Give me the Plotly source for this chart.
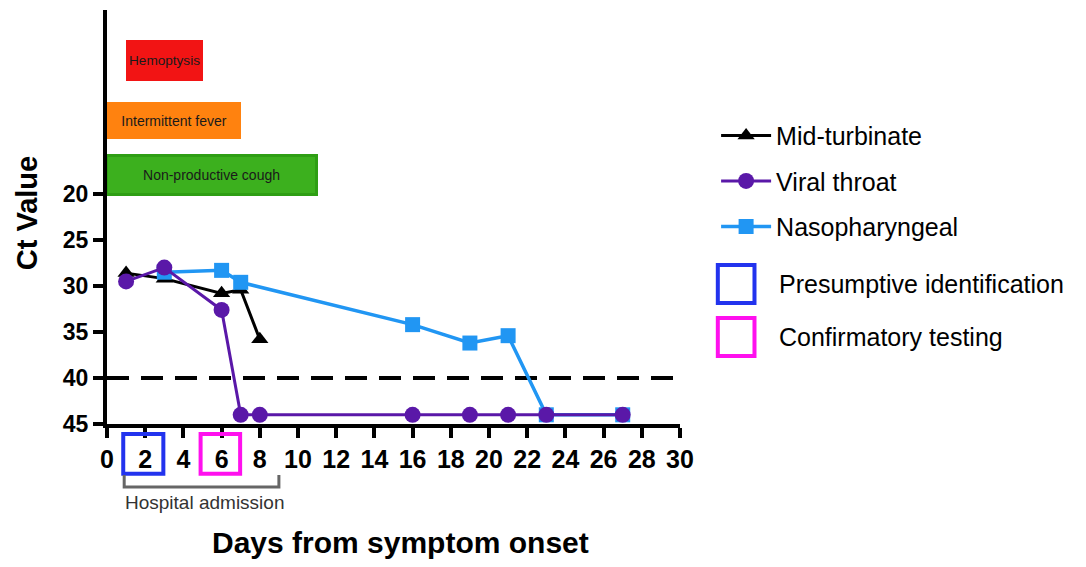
import plotly.graph_objects as go

# ---- data ----
mt_days = [1, 3, 6, 7, 8]
mt_ct = [28.6, 29.2, 30.8, 30.4, 35.8]

vt_days = [1, 3, 6, 7, 8, 16, 19, 21, 23, 27]
vt_ct = [29.5, 28.0, 32.6, 44.0, 44.0, 44.0, 44.0, 44.0, 44.0, 44.0]

np_days = [3, 6, 7, 16, 19, 21, 23, 27]
np_ct = [28.5, 28.3, 29.6, 34.2, 36.2, 35.4, 44.0, 44.0]

symptoms = ["Hemoptysis", "Intermittent fever", "Non-productive cough"]
sym_start = [1, 0, 0]
sym_end = [5, 7, 11]
sym_row = [5.5, 12.0, 18.0]
sym_colors = ["#f21414", "#ff820f", "#3cb01e"]

detect_limit = 40
x_ticks = list(range(0, 31, 2))
y_ticks = [20, 25, 30, 35, 40, 45]

FONT = "Liberation Sans, Arial, sans-serif"

fig = go.Figure()

# symptom bars
fig.add_trace(go.Bar(
    orientation="h",
    y=sym_row,
    base=sym_start,
    x=[e - s for s, e in zip(sym_start, sym_end)],
    width=[4.5, 4.1, 4.3],
    marker=dict(color=sym_colors, line=dict(color=["#f21414", "#ff820f", "#2e9e14"], width=[0, 0, 3])),
    text=symptoms,
    textposition="inside",
    insidetextanchor="middle",
    textfont=dict(family=FONT, size=14, color="#1a1a1a"),
    showlegend=False,
    hoverinfo="skip",
))

fig.add_trace(go.Scatter(
    x=mt_days, y=mt_ct, mode="lines+markers", name="Mid-turbinate",
    line=dict(color="black", width=3),
    marker=dict(symbol="triangle-up", size=15, color="black"),
    legendrank=1, legendgroup="mt",
))
fig.add_trace(go.Scatter(
    x=np_days, y=np_ct, mode="lines+markers", name="Nasopharyngeal",
    line=dict(color="#2196f3", width=3.5),
    marker=dict(symbol="square", size=15, color="#2196f3"),
    legendrank=3, legendgroup="np",
))
fig.add_trace(go.Scatter(
    x=vt_days, y=vt_ct, mode="lines+markers", name="Viral throat",
    line=dict(color="#5a18a8", width=3),
    marker=dict(symbol="circle", size=16, color="#5a18a8"),
    legendrank=2, legendgroup="vt",
))

# detection limit
fig.add_shape(type="line", xref="x", yref="y", x0=0, x1=30, y0=detect_limit, y1=detect_limit,
              line=dict(color="black", width=4, dash="22px,12px"), layer="below")

# boxes around tick labels 2 and 6
fig.add_shape(type="rect", xref="x", yref="paper", x0=0.85, x1=2.95, y0=-0.12, y1=-0.024,
              line=dict(color="#2233ee", width=4))
fig.add_shape(type="rect", xref="x", yref="paper", x0=4.9, x1=6.97, y0=-0.12, y1=-0.024,
              line=dict(color="#ff10ee", width=4))

# hospital admission bracket
fig.add_shape(type="path", xref="x", yref="paper",
              path="M 0.9,-0.123 L 0.9,-0.152 L 9.0,-0.152 L 9.0,-0.123",
              line=dict(color="#666666", width=3))
fig.add_annotation(x=5.13, y=-0.19, xref="x", yref="paper", text="Hospital admission",
                   showarrow=False, xanchor="center", yanchor="middle",
                   font=dict(family=FONT, size=19, color="#333333"))

# axis titles
fig.add_annotation(x=0.513, y=-0.287, xref="paper", yref="paper", text="<b>Days from symptom onset</b>",
                   showarrow=False, xanchor="center", yanchor="middle",
                   font=dict(family=FONT, size=30, color="black"))
fig.add_annotation(x=-0.139, y=0.51, xref="paper", yref="paper", text="<b>Ct Value</b>", textangle=-90,
                   showarrow=False, xanchor="center", yanchor="middle",
                   font=dict(family=FONT, size=29, color="black"))

# legend boxes
fig.add_shape(type="rect", xref="paper", yref="paper", x0=1.066, x1=1.13, y0=0.292, y1=0.384,
              line=dict(color="#2233ee", width=4))
fig.add_shape(type="rect", xref="paper", yref="paper", x0=1.066, x1=1.13, y0=0.164, y1=0.256,
              line=dict(color="#ff10ee", width=4))
fig.add_annotation(x=1.17, y=0.338, xref="paper", yref="paper", text="Presumptive identification",
                   showarrow=False, xanchor="left", yanchor="middle",
                   font=dict(family=FONT, size=25, color="black"))
fig.add_annotation(x=1.17, y=0.21, xref="paper", yref="paper", text="Confirmatory testing",
                   showarrow=False, xanchor="left", yanchor="middle",
                   font=dict(family=FONT, size=25, color="black"))

fig.update_layout(
    width=1070, height=551,
    margin=dict(l=99, r=398, t=2, b=135),
    plot_bgcolor="white", paper_bgcolor="white",
    font=dict(family=FONT, color="black"),
    bargap=0,
    legend=dict(x=1.063, y=0.752, xanchor="left", yanchor="top",
                font=dict(family=FONT, size=25, color="black"),
                itemwidth=50, tracegroupgap=10, traceorder="grouped",
                bgcolor="rgba(0,0,0,0)"),
    showlegend=True,
)

fig.update_xaxes(
    range=[0, 30], tickvals=x_ticks, ticktext=[str(v) for v in x_ticks],
    showline=True, linewidth=4, linecolor="black", showgrid=False, zeroline=False,
    ticks="outside", ticklen=10, tickwidth=4, tickcolor="black",
    tickfont=dict(family=FONT, size=25, color="black", weight="bold"),
)
fig.update_yaxes(
    range=[45, 0], tickvals=y_ticks, ticktext=[str(v) for v in y_ticks],
    showline=True, linewidth=4, linecolor="black", showgrid=False, zeroline=False,
    ticks="outside", ticklen=10, tickwidth=4, tickcolor="black",
    tickfont=dict(family=FONT, size=23, color="black", weight="bold"),
)

fig.write_html("out.html")
